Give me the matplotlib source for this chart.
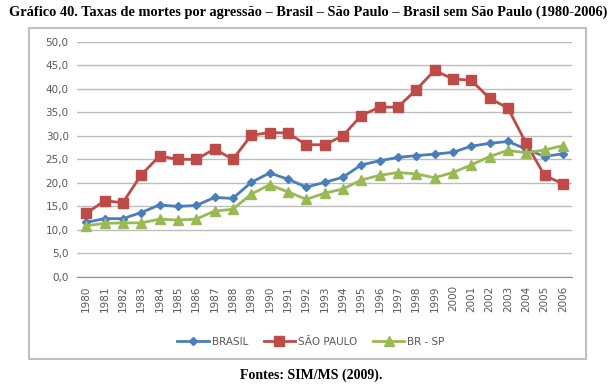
import matplotlib.pyplot as plt
from matplotlib.patches import Rectangle

years = [str(y) for y in range(1980, 2007)]
brasil = [11.6, 12.4, 12.4, 13.7, 15.3, 15.0, 15.2, 16.9, 16.7, 20.1, 22.1, 20.8, 19.1,
          20.1, 21.2, 23.8, 24.7, 25.4, 25.8, 26.1, 26.5, 27.8, 28.4, 28.8, 27.2, 25.6, 26.2]
sao_paulo = [13.5, 16.2, 15.8, 21.7, 25.7, 25.0, 25.0, 27.2, 25.0, 30.1, 30.7, 30.6, 28.1,
             28.1, 30.0, 34.3, 36.1, 36.1, 39.8, 43.9, 42.1, 41.8, 38.0, 35.9, 28.4, 21.6, 19.8]
br_sp = [10.9, 11.4, 11.5, 11.5, 12.3, 12.1, 12.3, 14.0, 14.4, 17.6, 19.6, 18.1, 16.5,
         17.8, 18.7, 20.6, 21.6, 22.2, 21.9, 21.1, 22.2, 23.8, 25.6, 26.9, 26.4, 27.0, 27.9]
yticks = [0, 5, 10, 15, 20, 25, 30, 35, 40, 45, 50]

fig = plt.figure(figsize=(6.16, 3.88), dpi=100)

# moldura do gráfico
fig.patches.append(Rectangle((29/616, 1-359/388), 557/616, 331/388, transform=fig.transFigure,
                             fill=False, edgecolor='#c0c0c0', linewidth=1.5))

ax = fig.add_axes([0.125, 0.2861, 0.8036, 0.6064])
x = range(len(years))
ax.plot(x, brasil, color='#4a7ebb', marker='D', markersize=4.5, linewidth=2, label='BRASIL')
ax.plot(x, sao_paulo, color='#be4b48', marker='s', markersize=7.5, linewidth=2, label='SÃO PAULO')
ax.plot(x, br_sp, color='#98b954', marker='^', markersize=7, linewidth=2, label='BR - SP')

ax.set_xlim(-0.5, len(years) - 0.5)
ax.set_ylim(0, 50)
ax.set_yticks(yticks)
ax.set_yticklabels([f'{v:.1f}'.replace('.', ',') for v in yticks], color='#595959', fontsize=7.5)
ax.set_xticks(list(x))
ax.set_xticklabels(years, rotation=90, color='#595959', fontsize=7.5)
ax.tick_params(length=0, pad=6)
ax.grid(axis='y', color='#bdbdbd', linewidth=1)
ax.set_axisbelow(True)
for s in ['top', 'right', 'left']:
    ax.spines[s].set_visible(False)
ax.spines['bottom'].set_color('#8c8c8c')

fig.legend(loc='center', bbox_to_anchor=(0.505, 1-342/388), ncol=3, frameon=False,
           fontsize=7.5, labelcolor='#595959', handlelength=3, columnspacing=1.5, handletextpad=0.3)

fig.text(0.5, 1-12/388, 'Gráfico 40. Taxas de mortes por agressão – Brasil – São Paulo – Brasil sem São Paulo (1980-2006)',
         ha='center', va='center', fontsize=10.4, fontweight='bold', family='Liberation Serif')
fig.text(0.505, 1-375/388, 'Fontes: SIM/MS (2009).', ha='center', va='center', fontsize=10,
         fontweight='bold', family='Liberation Serif')

fig.savefig('out.png', dpi=100)
